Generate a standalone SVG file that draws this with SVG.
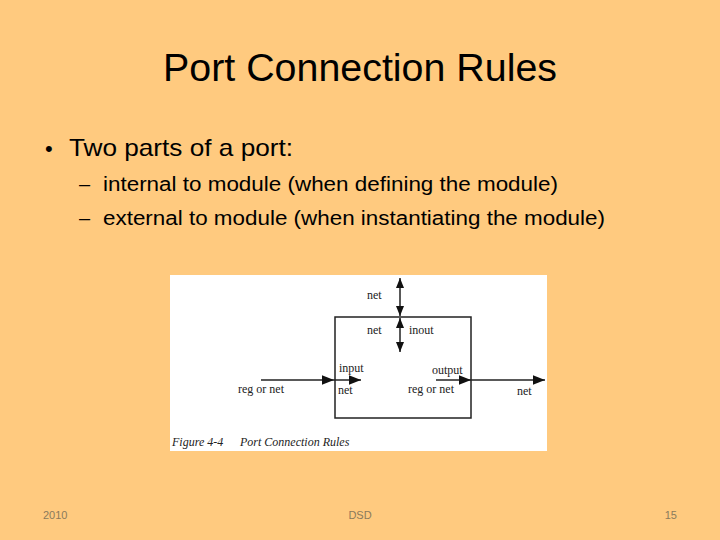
<svg xmlns="http://www.w3.org/2000/svg" width="720" height="540" viewBox="0 0 720 540">
<defs>
<marker id="ahb" viewBox="0 0 10 10" refX="10" refY="5" markerWidth="14" markerHeight="12" markerUnits="userSpaceOnUse" orient="auto-start-reverse">
<path d="M0,1 L10,5 L0,9 Z" fill="#111"/>
</marker>
<marker id="av" viewBox="0 0 10 10" refX="10" refY="5" markerWidth="14" markerHeight="10" markerUnits="userSpaceOnUse" orient="auto-start-reverse">
<path d="M0,1 L10,5 L0,9 Z" fill="#111"/>
</marker>
</defs>
<style>
.t{font-family:"Liberation Sans",Arial,sans-serif;fill:#000}
.f{font-family:"Liberation Serif","Times New Roman",serif;font-size:12px;fill:#222}
.ft{font-family:"Liberation Sans",Arial,sans-serif;font-size:11px;fill:#8a7a5c}
.ln{stroke:#222;stroke-width:1.5;fill:none}
</style>
<rect width="720" height="540" fill="#FFCA7F"/>
<text class="t" x="163" y="81" font-size="38" textLength="394" lengthAdjust="spacingAndGlyphs">Port Connection Rules</text>
<text class="t" x="45" y="156" font-size="22">•</text>
<text class="t" x="69" y="156" font-size="24" textLength="224" lengthAdjust="spacingAndGlyphs">Two parts of a port:</text>
<text class="t" x="79" y="191" font-size="20">–</text>
<text class="t" x="103" y="191" font-size="20" textLength="455" lengthAdjust="spacingAndGlyphs">internal to module (when defining the module)</text>
<text class="t" x="79" y="225" font-size="20">–</text>
<text class="t" x="103" y="225" font-size="20" textLength="502" lengthAdjust="spacingAndGlyphs">external to module (when instantiating the module)</text>
<g id="figure">
<rect x="170" y="275" width="377" height="176" fill="#fff"/>
<g id="module"><rect x="335" y="317" width="136" height="101" fill="none" stroke="#222" stroke-width="1.5"/></g>
<g id="connectors">
<line class="ln" x1="400" y1="278" x2="400" y2="316" marker-start="url(#av)" marker-end="url(#av)"/>
<line class="ln" x1="400" y1="318" x2="400" y2="352" marker-start="url(#av)" marker-end="url(#av)"/>
<line class="ln" x1="261" y1="380" x2="334" y2="380" marker-end="url(#ahb)"/>
<line class="ln" x1="334" y1="380" x2="361" y2="380" marker-end="url(#ahb)"/>
<line class="ln" x1="436" y1="380" x2="471" y2="380" marker-end="url(#ahb)"/>
<line class="ln" x1="471" y1="380" x2="545" y2="380" marker-end="url(#ahb)"/>
</g>
<text class="f" x="367" y="299">net</text>
<text class="f" x="367" y="334">net</text>
<text class="f" x="409" y="334">inout</text>
<text class="f" x="339" y="372">input</text>
<text class="f" x="238" y="393">reg or net</text>
<text class="f" x="338" y="394">net</text>
<text class="f" x="432" y="374">output</text>
<text class="f" x="408" y="393">reg or net</text>
<text class="f" x="517" y="395">net</text>
<text class="f" x="172" y="446" font-style="italic" font-size="11">Figure 4-4</text>
<text class="f" x="240" y="446" font-style="italic" font-size="11">Port Connection Rules</text>
</g>
<text class="ft" x="43" y="519">2010</text>
<text class="ft" x="360" y="519" text-anchor="middle">DSD</text>
<text class="ft" x="677" y="519" text-anchor="end">15</text>
</svg>
